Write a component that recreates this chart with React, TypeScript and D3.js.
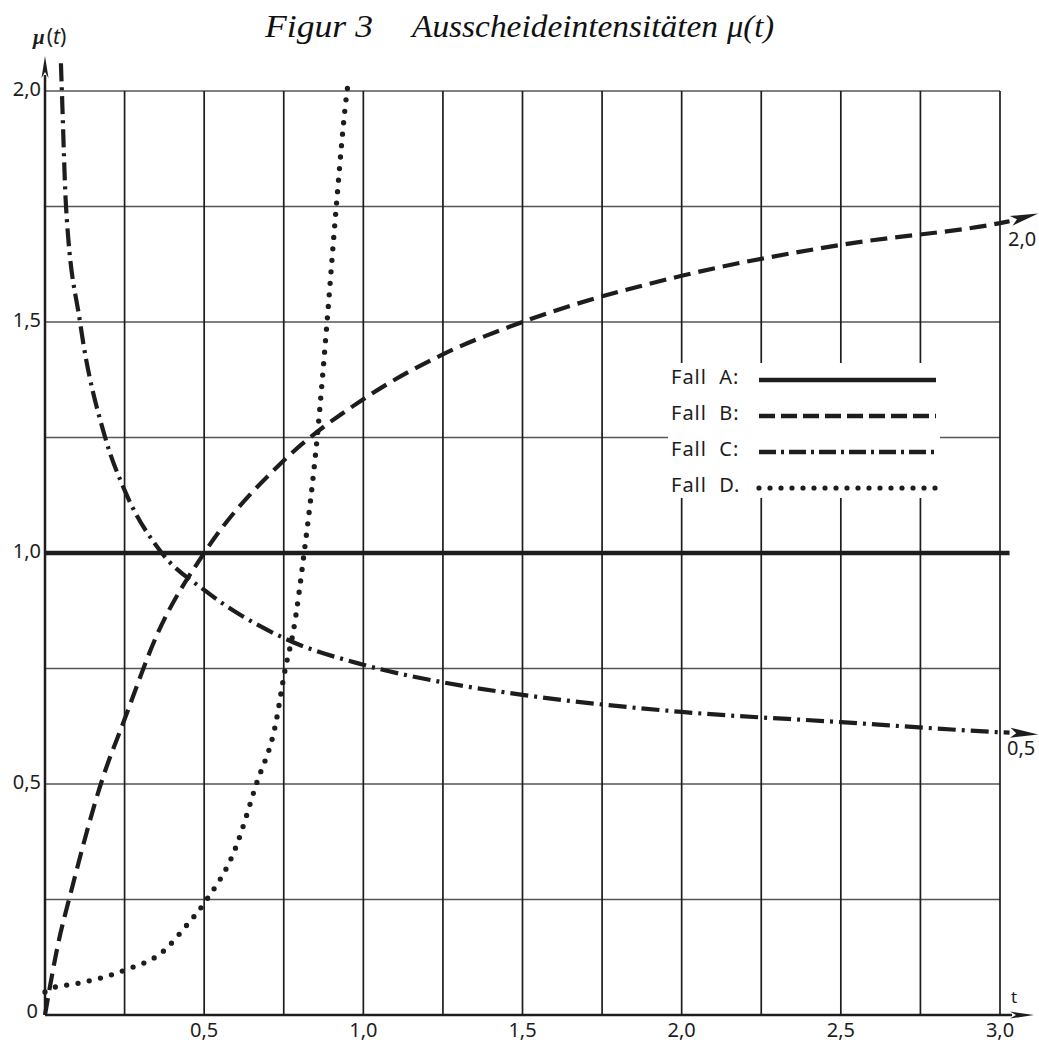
import React from "react";
import * as d3 from "d3";

// t on x, mu(t) on y
const tB = [0, 0.04, 0.083, 0.18, 0.25, 0.35, 0.5, 0.75, 1.0, 1.25, 1.5, 2.0, 2.5, 3.0, 3.03];
const muB = [0, 0.15, 0.27, 0.51, 0.64, 0.82, 1.0, 1.2, 1.333, 1.43, 1.5, 1.6, 1.667, 1.714, 1.718];

const tC = [0.05, 0.053, 0.066, 0.11, 0.189, 0.25, 0.367, 0.5, 0.75, 1.0, 1.25, 1.5, 2.0, 2.5, 3.0, 3.03];
const muC = [2.06, 2.0, 1.75, 1.5, 1.25, 1.136, 1.0, 0.92, 0.816, 0.758, 0.72, 0.693, 0.656, 0.634, 0.612, 0.611];

const tD = [0, 0.02, 0.1, 0.25, 0.375, 0.44, 0.5, 0.6, 0.664, 0.723, 0.755, 0.78, 0.814, 0.855, 0.886, 0.915, 0.949, 0.953];
const muD = [0.05, 0.058, 0.068, 0.097, 0.14, 0.19, 0.242, 0.364, 0.5, 0.625, 0.75, 0.83, 1.0, 1.25, 1.5, 1.75, 2.0, 2.02];

const tA = [0, 3.03];
const muA = [1, 1];

const gridT = d3.range(0.25, 3.001, 0.25);
const gridMu = d3.range(0.25, 2.001, 0.25);
const xTicks = [0.5, 1.0, 1.5, 2.0, 2.5, 3.0];
const yTicks = [0.5, 1.0, 1.5, 2.0];

const legendItems = [
  { label: "Fall  A:", dash: null },
  { label: "Fall  B:", dash: "16,6" },
  { label: "Fall  C:", dash: "17,5,3,5" },
  { label: "Fall  D.", dash: "0,11" },
];

const W = 1039;
const H = 1045;
const ink = "#1d1d1d";
const sans = "'Noto Sans', 'DejaVu Sans', sans-serif";
const serif = "'Liberation Serif', 'DejaVu Serif', serif";

const x = d3.scaleLinear().domain([0, 3]).range([45, 1000]);
const y = d3.scaleLinear().domain([0, 2]).range([1015, 91]);

const fmt = (v: number) => d3.format(".1f")(v).replace(".", ",");

const line = d3
  .line<[number, number]>()
  .x((d) => x(d[0]))
  .y((d) => y(d[1]))
  .curve(d3.curveMonotoneX);

const zip = (a: number[], b: number[]) => a.map((v, i) => [v, b[i]] as [number, number]);

// little filled arrow head, tip at (tx,ty), pointing along angle
const arrowHead = (tx: number, ty: number, ang: number, len = 26, half = 4.5) => {
  const c = Math.cos(ang), s = Math.sin(ang);
  const bx = tx - c * len, by = ty - s * len;
  return `M${tx},${ty}L${bx - s * half},${by + c * half}L${bx + c * 6},${by + s * 6}L${bx + s * half},${by - c * half}Z`;
};

export default function App() {
  const x0 = x(0), y0 = y(0);

  const endB = [x(3.03), y(1.718)];
  const tipB = [x(3.12), y(1.735)];
  const endC = [x(3.03), y(0.611)];
  const tipC = [x(3.12), y(0.607)];

  return (
    <svg
      width={W}
      height={H}
      style={{ position: "absolute", left: 0, top: 0, background: "#fff" }}
    >
      <rect width={W} height={H} fill="#fff" />

      {/* title */}
      <g fontFamily={serif} fontStyle="italic" fontSize={31} fill="#111">
        <text x={265} y={37} textLength={108} lengthAdjust="spacingAndGlyphs">Figur 3</text>
        <text x={412} y={37} textLength={306} lengthAdjust="spacingAndGlyphs">Ausscheideintensitäten</text>
        <text x={727} y={37} textLength={47} lengthAdjust="spacingAndGlyphs">μ(t)</text>
      </g>

      {/* grid */}
      {gridMu.filter((m) => m !== 1).map((m) => (
        <line key={"h" + m} x1={x0} x2={x(3)} y1={y(m)} y2={y(m)} stroke="#555" strokeWidth={1.3} />
      ))}
      {gridT.map((t) => (
        <line key={"v" + t} x1={x(t)} x2={x(t)} y1={y0} y2={y(2)} stroke={ink} strokeWidth={1.7} />
      ))}

      {/* legend box covers grid */}
      <rect x={668} y={363} width={272} height={135} fill="#fff" />
      <g fontFamily={sans} fontSize={20} fill={ink}>
        {legendItems.map((it, i) => {
          const ly = 379 + i * 36;
          return (
            <g key={it.label}>
              <text x={671} y={ly} dominantBaseline="middle" xmlSpace="preserve" letterSpacing={1}>
                {it.label}
              </text>
              <line
                x1={759}
                x2={936}
                y1={ly + 1}
                y2={ly + 1}
                stroke={ink}
                strokeWidth={i === 3 ? 5.2 : 4.5}
                strokeDasharray={it.dash ?? undefined}
                strokeLinecap={i === 3 ? "round" : "butt"}
              />
            </g>
          );
        })}
      </g>

      {/* axes */}
      <line x1={x0} x2={1012} y1={y0} y2={y0} stroke={ink} strokeWidth={2.5} />
      <path d={arrowHead(1034, y0, 0, 24, 3.5)} fill={ink} />
      <line x1={x0} x2={x0} y1={y0} y2={75} stroke={ink} strokeWidth={2.5} />
      <path d={arrowHead(x0, 56, -Math.PI / 2, 22, 3.5)} fill={ink} />

      {/* tick labels */}
      <g fontFamily={sans} fontSize={20} fill={ink}>
        {xTicks.map((t) => (
          <text key={"xt" + t} x={x(t)} y={1037} textAnchor="middle">
            {fmt(t)}
          </text>
        ))}
        {yTicks.map((m) => (
          <text key={"yt" + m} x={41} y={y(m)} textAnchor="end" dominantBaseline="middle">
            {fmt(m)}
          </text>
        ))}
        <text x={38} y={y0 - 2} textAnchor="end" dominantBaseline="middle">0</text>
        <text x={1011} y={1003} fontSize={17}>t</text>
        <text x={1008} y={y(1.73) + 25} dominantBaseline="middle">2,0</text>
        <text x={1007} y={750} dominantBaseline="middle">0,5</text>
        <text x={33} y={44} fontSize={21}>
          <tspan fontStyle="italic" fontFamily={serif} fontWeight="bold">μ</tspan>
          <tspan dx={2}>(</tspan>
          <tspan fontStyle="italic">t</tspan>
          <tspan>)</tspan>
        </text>
      </g>

      {/* curves */}
      <path d={line(zip(tA, muA)) ?? ""} fill="none" stroke={ink} strokeWidth={4.5} />
      <path d={line(zip(tB, muB)) ?? ""} fill="none" stroke={ink} strokeWidth={4.2} strokeDasharray="17,8" />
      <path d={line(zip(tC, muC)) ?? ""} fill="none" stroke={ink} strokeWidth={4.2} strokeDasharray="18,6,3,6" />
      <path
        d={line(zip(tD, muD)) ?? ""}
        fill="none"
        stroke={ink}
        strokeWidth={5.3}
        strokeDasharray="0,11.5"
        strokeLinecap="round"
      />

      {/* arrows at the asymptote ends */}
      <path d={arrowHead(tipB[0], tipB[1], Math.atan2(tipB[1] - endB[1], tipB[0] - endB[0]), 28, 5)} fill={ink} />
      <path d={arrowHead(tipC[0], tipC[1], Math.atan2(tipC[1] - endC[1], tipC[0] - endC[0]), 28, 5)} fill={ink} />
    </svg>
  );
}
